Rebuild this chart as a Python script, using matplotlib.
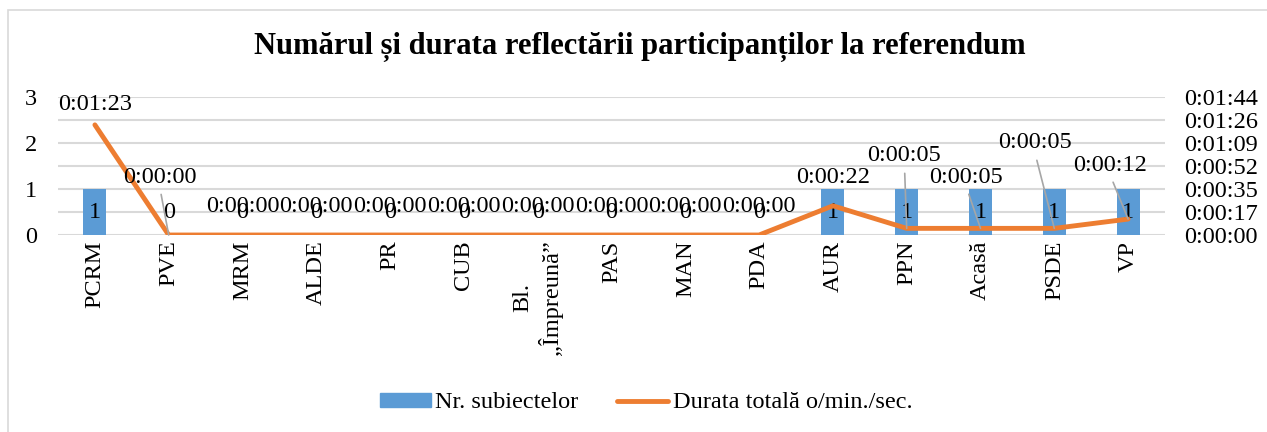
import numpy as np
import matplotlib
matplotlib.use("Agg")
import matplotlib.pyplot as plt
from matplotlib.patches import Rectangle

plt.rcParams['font.family'] = ['Liberation Serif', 'DejaVu Serif']

# data
categories = ['PCRM', 'PVE', 'MRM', 'ALDE', 'PR', 'CUB', 'Bl.\n„Împreună”',
              'PAS', 'MAN', 'PDA', 'AUR', 'PPN', 'Acasă', 'PSDE', 'VP']
nr_subiecte = [1, 0, 0, 0, 0, 0, 0, 0, 0, 0, 1, 1, 1, 1, 1]
durata_sec = [83, 0, 0, 0, 0, 0, 0, 0, 0, 0, 22, 5, 5, 5, 12]
right_tick_labels = ['0:00:00', '0:00:17', '0:00:35', '0:00:52',
                     '0:01:09', '0:01:26', '0:01:44']

# label placement for the line labels (left-axis units, x offset in categories)
lbl_y = [2.83, 1.26, 0.61, 0.61, 0.61, 0.61, 0.61, 0.61, 0.61, 0.61,
         1.26, 1.72, 1.26, 2.0, 1.52]
lbl_dx = [0, -0.12, 0, 0, 0, 0, 0, 0, 0, 0, 0, -0.03, -0.19, -0.26, -0.24]
leader = [False, True, False, False, False, False, False, False, False, False,
          False, True, True, True, True]

blue = '#5B9BD5'
orange = '#ED7D31'
fs = 17.5

def fmt(s):
    return f"0:{s // 60:02d}:{s % 60:02d}"

fig = plt.figure(figsize=(12.67, 4.32), dpi=100)
fig.patches.append(Rectangle((8 / 1267, -0.1), 1.2, (432 - 10) / 432 + 0.1,
                             transform=fig.transFigure, fill=False,
                             edgecolor='#d9d9d9', linewidth=1.2))

ax = fig.add_axes([58 / 1267, 1 - 235 / 432, (1165 - 58) / 1267, (235 - 97) / 432])
x = np.arange(len(categories))
ax.bar(x, nr_subiecte, width=0.31, color=blue, zorder=2)
ax.set_xlim(-0.5, len(categories) - 0.5)
ax.set_ylim(0, 3)
ax.set_yticks([0, 1, 2, 3])
ax.set_yticks(np.arange(0, 3.01, 0.5), minor=True)
ax.grid(axis='y', which='both', color='#d9d9d9', linewidth=1.5, zorder=0)
ax.set_axisbelow(True)
ax.tick_params(axis='both', which='both', length=0, labelsize=fs)
ax.tick_params(axis='y', pad=15)
ax.set_xticks(x)
ax.set_xticklabels(categories, rotation=90, va='top', ha='center',
                   multialignment='center')
ax.tick_params(axis='x', pad=4)
for s in ax.spines.values():
    s.set_visible(False)

for xi, v in zip(x, nr_subiecte):
    ax.text(xi, 0.5, str(v), ha='center', va='center', fontsize=fs, zorder=5)

ax2 = ax.twinx()
ax2.plot(x, durata_sec, color=orange, linewidth=3.5, solid_capstyle='round', zorder=3)
ax2.set_ylim(0, 104)
ax2.set_yticks(np.linspace(0, 104, 7))
ax2.set_yticklabels(right_tick_labels)
ax2.tick_params(axis='y', length=0, labelsize=fs, pad=14)
for s in ax2.spines.values():
    s.set_visible(False)

k = 104 / 3
for xi, v, ly, dx, ld in zip(x, durata_sec, lbl_y, lbl_dx, leader):
    if ld:
        ax2.annotate(fmt(v), xy=(xi, v), xytext=(xi + dx, ly * k),
                     ha='center', va='center', fontsize=fs,
                     arrowprops=dict(arrowstyle='-', color='#a6a6a6', lw=1.2,
                                     relpos=(0.5, 0), shrinkA=3, shrinkB=0))
    else:
        ax2.text(xi + dx, ly * k, fmt(v), ha='center', va='center', fontsize=fs)

fig.text(0.505, 1 - 47 / 432, 'Numărul și durata reflectării participanților la referendum',
         ha='center', va='center', fontsize=22, fontweight='bold')

h1 = Rectangle((0, 0), 1, 1, color=blue)
h2 = plt.Line2D([0], [0], color=orange, linewidth=3.5, solid_capstyle='round')
fig.legend([h1, h2], ['Nr. subiectelor', 'Durata totală o/min./sec.'],
           loc='center', bbox_to_anchor=(0.51, 1 - 403 / 432), ncol=2,
           frameon=False, fontsize=fs, handlelength=2.1, handleheight=0.5,
           handletextpad=0.17, columnspacing=1.6)

fig.savefig('out.png', dpi=100)
